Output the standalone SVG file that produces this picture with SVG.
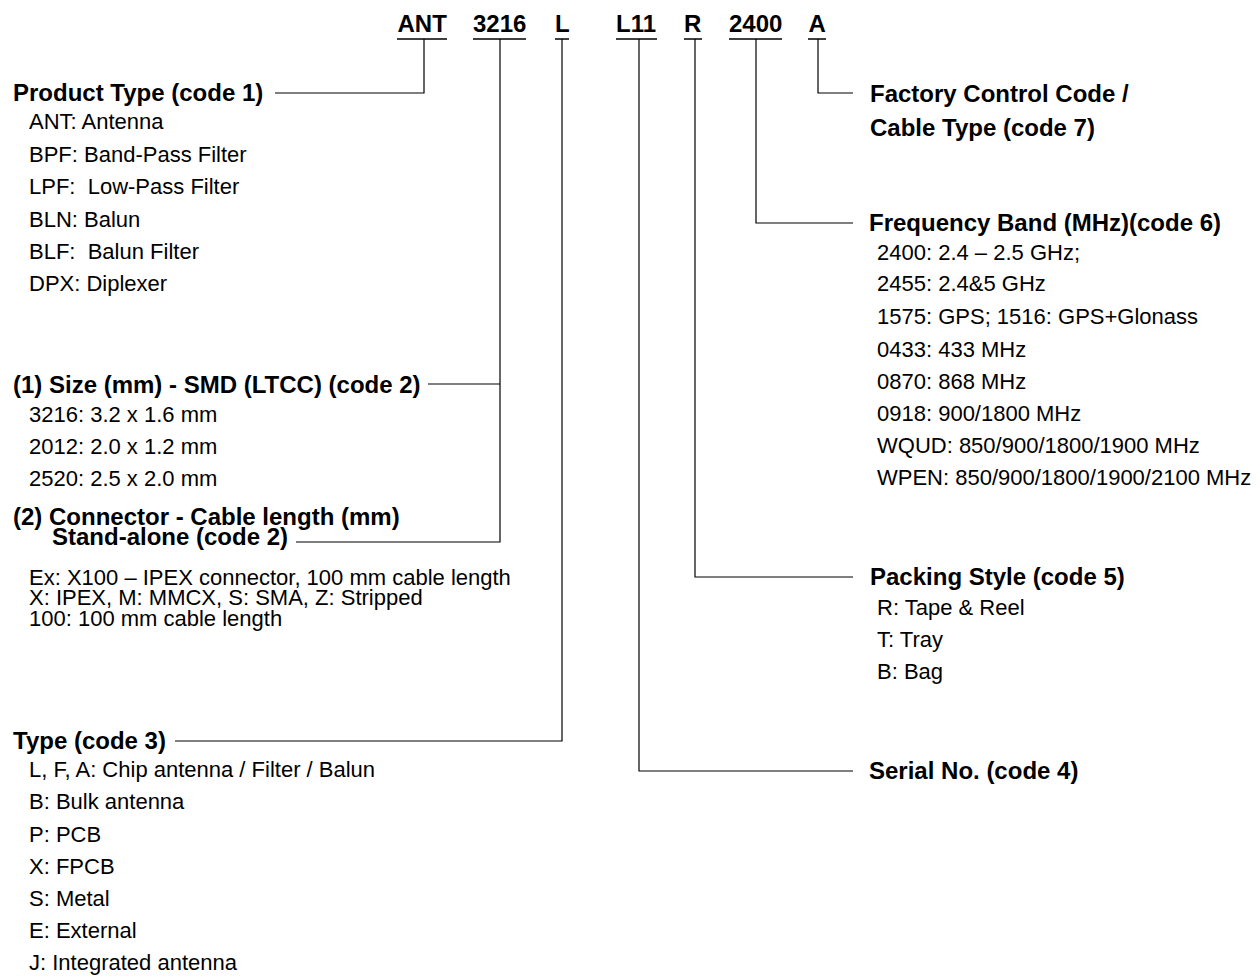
<svg xmlns="http://www.w3.org/2000/svg" width="1260" height="978" viewBox="0 0 1260 978">
<style>
text{font-family:"Liberation Sans",Arial,sans-serif;fill:#000}
.code{font-size:24px;font-weight:bold}
.t{font-size:24px;font-weight:bold}
.i{font-size:22px}
.ul{stroke:#000;stroke-width:1.5}
.c{stroke:#000;stroke-width:1.2;fill:none}
</style>
<rect width="1260" height="978" fill="#fff"/>
<g id="code-row">
<text class="code" x="397.5" y="32">ANT</text>
<text class="code" x="473" y="32">3216</text>
<text class="code" x="555" y="32">L</text>
<text class="code" x="616" y="32">L11</text>
<text class="code" x="684" y="32">R</text>
<text class="code" x="729" y="32">2400</text>
<text class="code" x="808.5" y="32">A</text>
<line class="ul" x1="397" y1="39" x2="447" y2="39"/>
<line class="ul" x1="473" y1="39" x2="526" y2="39"/>
<line class="ul" x1="555" y1="39" x2="569" y2="39"/>
<line class="ul" x1="616" y1="39" x2="657" y2="39"/>
<line class="ul" x1="684" y1="39" x2="702" y2="39"/>
<line class="ul" x1="729" y1="39" x2="782" y2="39"/>
<line class="ul" x1="808" y1="39" x2="826" y2="39"/>
</g>
<g id="connectors">
<polyline class="c" points="424,39 424,93 275,93"/>
<polyline class="c" points="500,39 500,542 296,542"/>
<line class="c" x1="428" y1="384" x2="500" y2="384"/>
<polyline class="c" points="562,39 562,741 175,741"/>
<polyline class="c" points="639,39 639,771 853,771"/>
<polyline class="c" points="695,39 695,577 853,577"/>
<polyline class="c" points="756,39 756,223 853,223"/>
<polyline class="c" points="818,39 818,93 853,93"/>
</g>
<g id="product-type">
<text class="t" x="13" y="101">Product Type (code 1)</text>
<text class="i" x="29" y="129">ANT: Antenna</text>
<text class="i" x="29" y="161.5">BPF: Band-Pass Filter</text>
<text class="i" x="29" y="194" xml:space="preserve">LPF:  Low-Pass Filter</text>
<text class="i" x="29" y="226.5">BLN: Balun</text>
<text class="i" x="29" y="258.5" xml:space="preserve">BLF:  Balun Filter</text>
<text class="i" x="29" y="291">DPX: Diplexer</text>
</g>
<g id="size">
<text class="t" x="13" y="393">(1) Size (mm) - SMD (LTCC) (code 2)</text>
<text class="i" x="29" y="422">3216: 3.2 x 1.6 mm</text>
<text class="i" x="29" y="453.5">2012: 2.0 x 1.2 mm</text>
<text class="i" x="29" y="485.5">2520: 2.5 x 2.0 mm</text>
</g>
<g id="connector-length">
<text class="t" x="13" y="525">(2) Connector - Cable length (mm)</text>
<text class="t" x="52" y="545">Stand-alone (code 2)</text>
<text class="i" x="29" y="585">Ex: X100 – IPEX connector, 100 mm cable length</text>
<text class="i" x="29" y="605">X: IPEX, M: MMCX, S: SMA, Z: Stripped</text>
<text class="i" x="29" y="625.5">100: 100 mm cable length</text>
</g>
<g id="type">
<text class="t" x="13" y="749">Type (code 3)</text>
<text class="i" x="29" y="777">L, F, A: Chip antenna / Filter / Balun</text>
<text class="i" x="29" y="809">B: Bulk antenna</text>
<text class="i" x="29" y="841.5">P: PCB</text>
<text class="i" x="29" y="873.5">X: FPCB</text>
<text class="i" x="29" y="905.5">S: Metal</text>
<text class="i" x="29" y="937.5">E: External</text>
<text class="i" x="29" y="970">J: Integrated antenna</text>
</g>
<g id="factory-code">
<text class="t" x="870" y="102">Factory Control Code /</text>
<text class="t" x="870" y="136">Cable Type (code 7)</text>
</g>
<g id="frequency-band">
<text class="t" x="869" y="231">Frequency Band (MHz)(code 6)</text>
<text class="i" x="877" y="260">2400: 2.4 – 2.5 GHz;</text>
<text class="i" x="877" y="291">2455: 2.4&amp;5 GHz</text>
<text class="i" x="877" y="324">1575: GPS; 1516: GPS+Glonass</text>
<text class="i" x="877" y="356.5">0433: 433 MHz</text>
<text class="i" x="877" y="388.5">0870: 868 MHz</text>
<text class="i" x="877" y="421">0918: 900/1800 MHz</text>
<text class="i" x="877" y="453">WQUD: 850/900/1800/1900 MHz</text>
<text class="i" x="877" y="485">WPEN: 850/900/1800/1900/2100 MHz</text>
</g>
<g id="packing-style">
<text class="t" x="870" y="585">Packing Style (code 5)</text>
<text class="i" x="877" y="615">R: Tape &amp; Reel</text>
<text class="i" x="877" y="647">T: Tray</text>
<text class="i" x="877" y="679">B: Bag</text>
</g>
<g id="serial-no">
<text class="t" x="869" y="779">Serial No. (code 4)</text>
</g>
</svg>
